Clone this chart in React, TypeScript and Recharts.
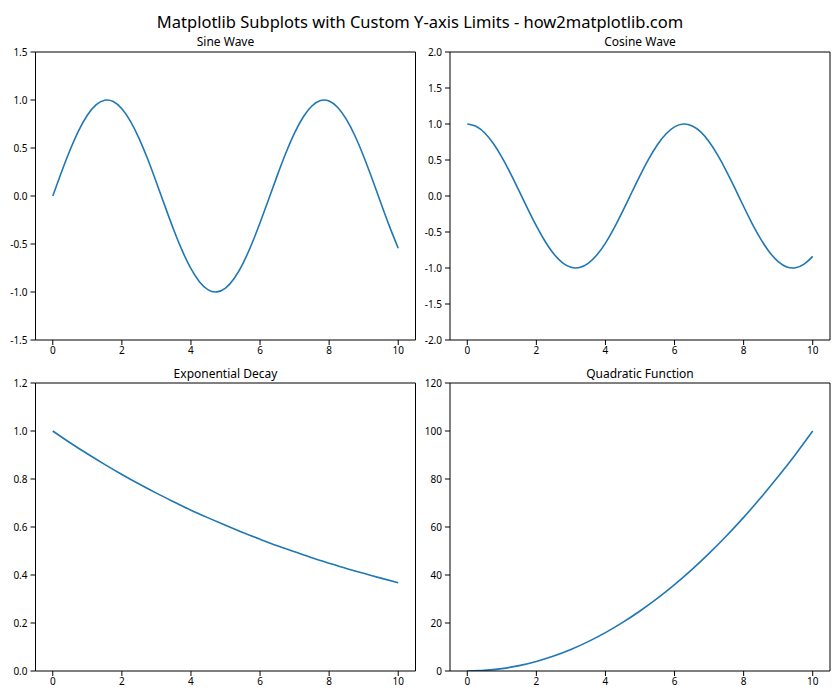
import React from "react";
import { LineChart, Line, XAxis, YAxis, ReferenceLine } from "recharts";

const mainTitle = "Matplotlib Subplots with Custom Y-axis Limits - how2matplotlib.com";
const panelTitles = ["Sine Wave", "Cosine Wave", "Exponential Decay", "Quadratic Function"];

const xFine = [0, 0.25, 0.5, 0.75, 1, 1.25, 1.5, 1.75, 2, 2.25, 2.5, 2.75, 3, 3.25, 3.5, 3.75, 4, 4.25, 4.5, 4.75, 5, 5.25, 5.5, 5.75, 6, 6.25, 6.5, 6.75, 7, 7.25, 7.5, 7.75, 8, 8.25, 8.5, 8.75, 9, 9.25, 9.5, 9.75, 10];
const sineValues = [0, 0.247, 0.479, 0.682, 0.841, 0.949, 0.997, 0.984, 0.909, 0.778, 0.598, 0.382, 0.141, -0.108, -0.351, -0.572, -0.757, -0.895, -0.978, -0.999, -0.959, -0.859, -0.706, -0.508, -0.279, -0.033, 0.215, 0.45, 0.657, 0.823, 0.938, 0.995, 0.989, 0.922, 0.798, 0.625, 0.412, 0.174, -0.075, -0.319, -0.544];
const cosineValues = [1, 0.969, 0.878, 0.732, 0.54, 0.315, 0.071, -0.178, -0.416, -0.628, -0.801, -0.924, -0.99, -0.994, -0.936, -0.82, -0.654, -0.446, -0.211, 0.038, 0.284, 0.512, 0.709, 0.861, 0.96, 0.9995, 0.977, 0.893, 0.754, 0.568, 0.347, 0.105, -0.146, -0.386, -0.602, -0.78, -0.911, -0.985, -0.997, -0.947, -0.839];

const xCoarse = [0, 0.5, 1, 1.5, 2, 2.5, 3, 3.5, 4, 4.5, 5, 5.5, 6, 6.5, 7, 7.5, 8, 8.5, 9, 9.5, 10];
const expValues = [1, 0.951, 0.905, 0.861, 0.819, 0.779, 0.741, 0.705, 0.67, 0.638, 0.607, 0.577, 0.549, 0.522, 0.497, 0.472, 0.449, 0.427, 0.407, 0.387, 0.368];
const quadValues = [0, 0.25, 1, 2.25, 4, 6.25, 9, 12.25, 16, 20.25, 25, 30.25, 36, 42.25, 49, 56.25, 64, 72.25, 81, 90.25, 100];

const xDomain: [number, number] = [-0.5, 10.5];
const xTicks = [0, 2, 4, 6, 8, 10];
const sineTicks = [-1.5, -1.0, -0.5, 0.0, 0.5, 1.0, 1.5];
const cosineTicks = [-2.0, -1.5, -1.0, -0.5, 0.0, 0.5, 1.0, 1.5, 2.0];
const expTicks = [0.0, 0.2, 0.4, 0.6, 0.8, 1.0, 1.2];
const quadTicks = [0, 20, 40, 60, 80, 100, 120];

const build = (xs: number[], ys: number[]) => xs.map((x, i) => ({ x, y: ys[i] }));

const FONT = "'Noto Sans', 'Open Sans', sans-serif";
const tickStyle = { fontSize: 10, fill: "#000", fontFamily: FONT };

type PanelProps = {
  data: { x: number; y: number }[];
  domain: [number, number];
  yTicks: number[];
  fmt: (v: number) => string;
  left: number;
  top: number;
  yAxisWidth: number;
};

const Panel = ({ data, domain, yTicks, fmt, left, top, yAxisWidth }: PanelProps) => (
  <div style={{ position: "absolute", left, top }}>
    <LineChart width={yAxisWidth + 381} height={340} data={data} margin={{ top: 22, right: 1, left: 0, bottom: 0 }}>
      <XAxis
        dataKey="x"
        type="number"
        domain={xDomain}
        ticks={xTicks}
        allowDataOverflow
        height={30}
        tick={tickStyle}
        tickSize={5}
        tickMargin={2}
        stroke="#000"
        tickLine={{ stroke: "#000" }}
        axisLine={{ stroke: "#000" }}
      />
      <YAxis
        type="number"
        domain={domain}
        ticks={yTicks}
        allowDataOverflow
        width={yAxisWidth}
        tickFormatter={fmt}
        tick={tickStyle}
        tickSize={5}
        tickMargin={3}
        stroke="#000"
        tickLine={{ stroke: "#000" }}
        axisLine={{ stroke: "#000" }}
      />
      <ReferenceLine y={domain[1]} stroke="#000" strokeWidth={1} ifOverflow="visible" />
      <ReferenceLine x={xDomain[1]} stroke="#000" strokeWidth={1} ifOverflow="visible" />
      <Line
        dataKey="y"
        type="natural"
        stroke="#1f77b4"
        strokeWidth={1.6}
        dot={false}
        isAnimationActive={false}
      />
    </LineChart>
  </div>
);

const f1 = (v: number) => v.toFixed(1);
const f0 = (v: number) => v.toFixed(0);

export default function App() {
  return (
    <div style={{ position: "absolute", left: 0, top: 0, width: 840, height: 700, background: "#fff", fontFamily: FONT }}>
      <Panel data={build(xFine, sineValues)} domain={[-1.5, 1.5]} yTicks={sineTicks} fmt={f1} left={0} top={30} yAxisWidth={35.5} />
      <Panel data={build(xFine, cosineValues)} domain={[-2, 2]} yTicks={cosineTicks} fmt={f1} left={410} top={30} yAxisWidth={40} />
      <Panel data={build(xCoarse, expValues)} domain={[0, 1.2]} yTicks={expTicks} fmt={f1} left={0} top={361} yAxisWidth={35.5} />
      <Panel data={build(xCoarse, quadValues)} domain={[0, 120]} yTicks={quadTicks} fmt={f0} left={410} top={361} yAxisWidth={40} />
      <svg width={840} height={700} style={{ position: "absolute", left: 0, top: 0, pointerEvents: "none" }}>
        <text x={420} y={21} textAnchor="middle" dominantBaseline="central" fontSize={16.5} fontFamily={FONT} fill="#000">
          {mainTitle}
        </text>
        <text x={225.5} y={41} textAnchor="middle" dominantBaseline="central" fontSize={12} fontFamily={FONT} fill="#000">
          {panelTitles[0]}
        </text>
        <text x={640} y={41} textAnchor="middle" dominantBaseline="central" fontSize={12} fontFamily={FONT} fill="#000">
          {panelTitles[1]}
        </text>
        <text x={225.5} y={373} textAnchor="middle" dominantBaseline="central" fontSize={12} fontFamily={FONT} fill="#000">
          {panelTitles[2]}
        </text>
        <text x={640} y={373} textAnchor="middle" dominantBaseline="central" fontSize={12} fontFamily={FONT} fill="#000">
          {panelTitles[3]}
        </text>
      </svg>
    </div>
  );
}
